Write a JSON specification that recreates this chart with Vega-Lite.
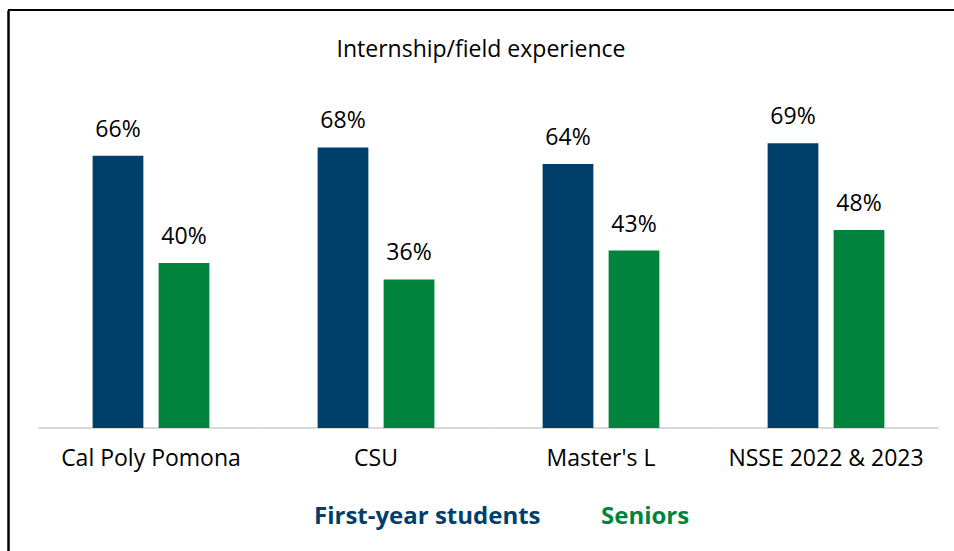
{
  "$schema": "https://vega.github.io/schema/vega-lite/v6.json",
  "width": 946,
  "height": 541,
  "autosize": {"type": "none"},
  "padding": {"left": 8, "top": 10, "right": 0, "bottom": 0},
  "background": "white",
  "config": {"view": {"stroke": null}, "font": "Open Sans"},
  "title": {"text": "Internship/field experience", "fontSize": 23, "fontWeight": "normal", "color": "black", "dy": 57, "anchor": "middle", "frame": "group", "font": "Open Sans"},
  "data": {"values": [
    {"school": "Cal Poly Pomona", "group": "First-year students", "pct": 0.66},
    {"school": "Cal Poly Pomona", "group": "Seniors", "pct": 0.40},
    {"school": "CSU", "group": "First-year students", "pct": 0.68},
    {"school": "CSU", "group": "Seniors", "pct": 0.36},
    {"school": "Master's L", "group": "First-year students", "pct": 0.64},
    {"school": "Master's L", "group": "Seniors", "pct": 0.43},
    {"school": "NSSE 2022 & 2023", "group": "First-year students", "pct": 0.69},
    {"school": "NSSE 2022 & 2023", "group": "Seniors", "pct": 0.48}
  ]},
  "layer": [
    {
      "mark": {"type": "bar", "fill": "transparent", "stroke": "#d9d9d9", "strokeWidth": 2},
      "encoding": {
        "x": {"field": "school", "type": "nominal", "sort": null,
          "scale": {"paddingInner": 0, "paddingOuter": 0.1022, "align": 0.663},
          "axis": {"orient": "bottom", "offset": -123, "domain": false, "ticks": false, "tickSize": 0, "labelPadding": 19, "labelAngle": 0, "labelFontSize": 23, "labelColor": "black", "labelFont": "Open Sans", "labelBaseline": "top", "labelLimit": 0, "title": null, "grid": false}
        },
        "y": {"datum": 0, "type": "quantitative", "scale": {"domain": [-0.2982, 1.0133], "nice": false, "zero": false},
          "axis": {"orient": "left", "domain": true, "domainColor": "black", "domainWidth": 2.5, "labels": false, "ticks": false, "grid": false, "title": null}}
      }
    },
    {
      "mark": {"type": "bar"},
      "encoding": {
        "x": {"field": "school", "type": "nominal", "sort": null},
        "xOffset": {"field": "group", "type": "nominal", "scale": {"paddingInner": 0.231, "paddingOuter": 0.82}},
        "y": {"field": "pct", "type": "quantitative"},
        "color": {"field": "group", "type": "nominal",
          "scale": {"domain": ["First-year students", "Seniors"], "range": ["#003F69", "#00843D"]},
          "legend": {"orient": "none", "legendX": 282, "legendY": 495, "direction": "horizontal", "title": null,
            "symbolSize": 0, "symbolOpacity": 0, "symbolStrokeWidth": 0, "labelOffset": 0, "columnPadding": 36,
            "labelFontSize": 24, "labelFontWeight": "bold", "labelFont": "Open Sans", "labelLimit": 0,
            "labelColor": {"expr": "datum.label === 'Seniors' ? '#00843D' : '#003F69'"}}
        }
      }
    },
    {
      "mark": {"type": "text", "dy": -19, "baseline": "alphabetic", "fontSize": 23, "font": "Open Sans", "color": "black"},
      "encoding": {
        "x": {"field": "school", "type": "nominal", "sort": null},
        "xOffset": {"field": "group", "type": "nominal"},
        "y": {"field": "pct", "type": "quantitative"},
        "text": {"field": "pct", "type": "quantitative", "format": ".0%"}
      }
    },
    {
      "mark": {"type": "rule", "color": "black", "strokeWidth": 2},
      "encoding": {"y": {"datum": 1.0133, "type": "quantitative"}}
    }
  ]
}
